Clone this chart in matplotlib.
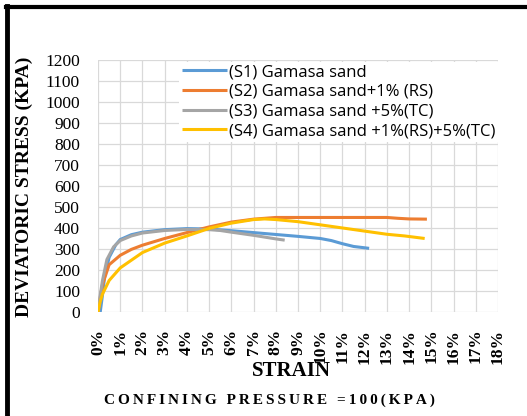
import numpy as np
import matplotlib.pyplot as plt
from matplotlib.lines import Line2D
from matplotlib.ticker import MultipleLocator, FuncFormatter

# strain (%) vs deviatoric stress (kPa) for each mix
s1_strain = [0.1, 0.2, 0.3, 0.5, 0.8, 1.0, 1.5, 2.0, 3.0, 4.0, 5.0, 6.0, 7.0, 8.0, 9.0, 10.0, 10.5, 11.0, 11.5, 12.2]
s1_stress = [0, 80, 170, 260, 320, 345, 368, 380, 392, 397, 395, 387, 378, 369, 360, 350, 340, 325, 312, 303]

s2_strain = [0.0, 0.1, 0.2, 0.5, 1.0, 1.5, 2.0, 3.0, 4.0, 5.0, 6.0, 7.0, 8.0, 9.0, 10.0, 11.0, 12.0, 13.0, 13.5, 14.0, 14.8]
s2_stress = [0, 70, 130, 225, 270, 298, 318, 350, 378, 405, 428, 442, 450, 450, 450, 450, 450, 450, 446, 443, 442]

s3_strain = [0.0, 0.1, 0.2, 0.4, 0.7, 1.0, 1.5, 2.0, 3.0, 4.0, 5.0, 5.5, 6.0, 7.0, 8.0, 8.4]
s3_stress = [0, 80, 150, 250, 310, 340, 362, 376, 388, 393, 392, 388, 380, 365, 348, 342]

s4_strain = [0.0, 0.1, 0.2, 0.5, 1.0, 2.0, 3.0, 4.0, 5.0, 6.0, 7.0, 7.5, 8.0, 9.0, 10.0, 11.0, 12.0, 13.0, 13.8, 14.7]
s4_stress = [0, 50, 85, 150, 210, 283, 328, 362, 398, 423, 440, 443, 440, 430, 415, 400, 385, 370, 362, 350]

labels = ['(S1) Gamasa sand', '(S2) Gamasa sand+1% (RS)',
          '(S3) Gamasa sand +5%(TC)', '(S4) Gamasa sand +1%(RS)+5%(TC)']
colors = ['#5B9BD5', '#ED7D31', '#A5A5A5', '#FFC000']

fig = plt.figure(figsize=(5.27, 4.16), dpi=100)
ax = fig.add_axes([0.186, 0.25, 0.759, 0.606])

series = [(s1_strain, s1_stress), (s2_strain, s2_stress),
          (s3_strain, s3_stress), (s4_strain, s4_stress)]
for (x, y), lab, c in zip(series, labels, colors):
    ax.plot(x, y, color=c, linewidth=2.2, label=lab, solid_capstyle='butt')

ax.set_xlim(0, 18)
ax.set_ylim(0, 1200)
ax.xaxis.set_major_locator(MultipleLocator(1))
ax.yaxis.set_major_locator(MultipleLocator(100))
ax.xaxis.set_major_formatter(FuncFormatter(lambda v, p: '%d%%' % round(v)))
ax.grid(True, color='#d9d9d9', linewidth=0.9)
ax.set_axisbelow(True)
for s in ax.spines.values():
    s.set_visible(False)
ax.tick_params(axis='x', length=0, pad=12)
ax.tick_params(axis='y', length=0, pad=13)
for t in ax.get_xticklabels():
    t.set_rotation(90)
    t.set_fontfamily('Liberation Serif')
    t.set_fontweight('bold')
    t.set_fontsize(12.5)
for t in ax.get_yticklabels():
    t.set_fontfamily('Liberation Serif')
    t.set_fontsize(12.5)

leg = fig.legend(loc='upper left', bbox_to_anchor=(0.34, 0.852),
                 prop={'family': 'Open Sans', 'size': 12}, handlelength=2.7,
                 handletextpad=0.12, labelspacing=0.22, borderpad=0.15,
                 borderaxespad=0, frameon=True, fancybox=False)
leg.get_frame().set_facecolor('white')
leg.get_frame().set_edgecolor('none')
leg.get_frame().set_alpha(1)

fig.text(0.046, 0.55, 'DEVIATORIC STRESS (KPA)', rotation=90, ha='center', va='center',
         family='Liberation Serif', fontweight='bold', fontsize=14)
fig.text(0.553, 0.108, 'STRAIN', ha='center', va='center',
         family='Liberation Serif', fontweight='bold', fontsize=15)
fig.text(0.512, 0.038, '\u2009'.join('CONFINING PRESSURE =100(KPA)'), ha='center', va='center',
         family='Liberation Serif', fontweight='bold', fontsize=11)

# heavy frame lines along the top and left edge
fig.add_artist(Line2D([0.011, 1.0], [0.983, 0.983], transform=fig.transFigure,
                      color='black', linewidth=3))
fig.add_artist(Line2D([0.014, 0.014], [0.0, 0.986], transform=fig.transFigure,
                      color='black', linewidth=3.5))

fig.savefig('out.png', dpi=100)
